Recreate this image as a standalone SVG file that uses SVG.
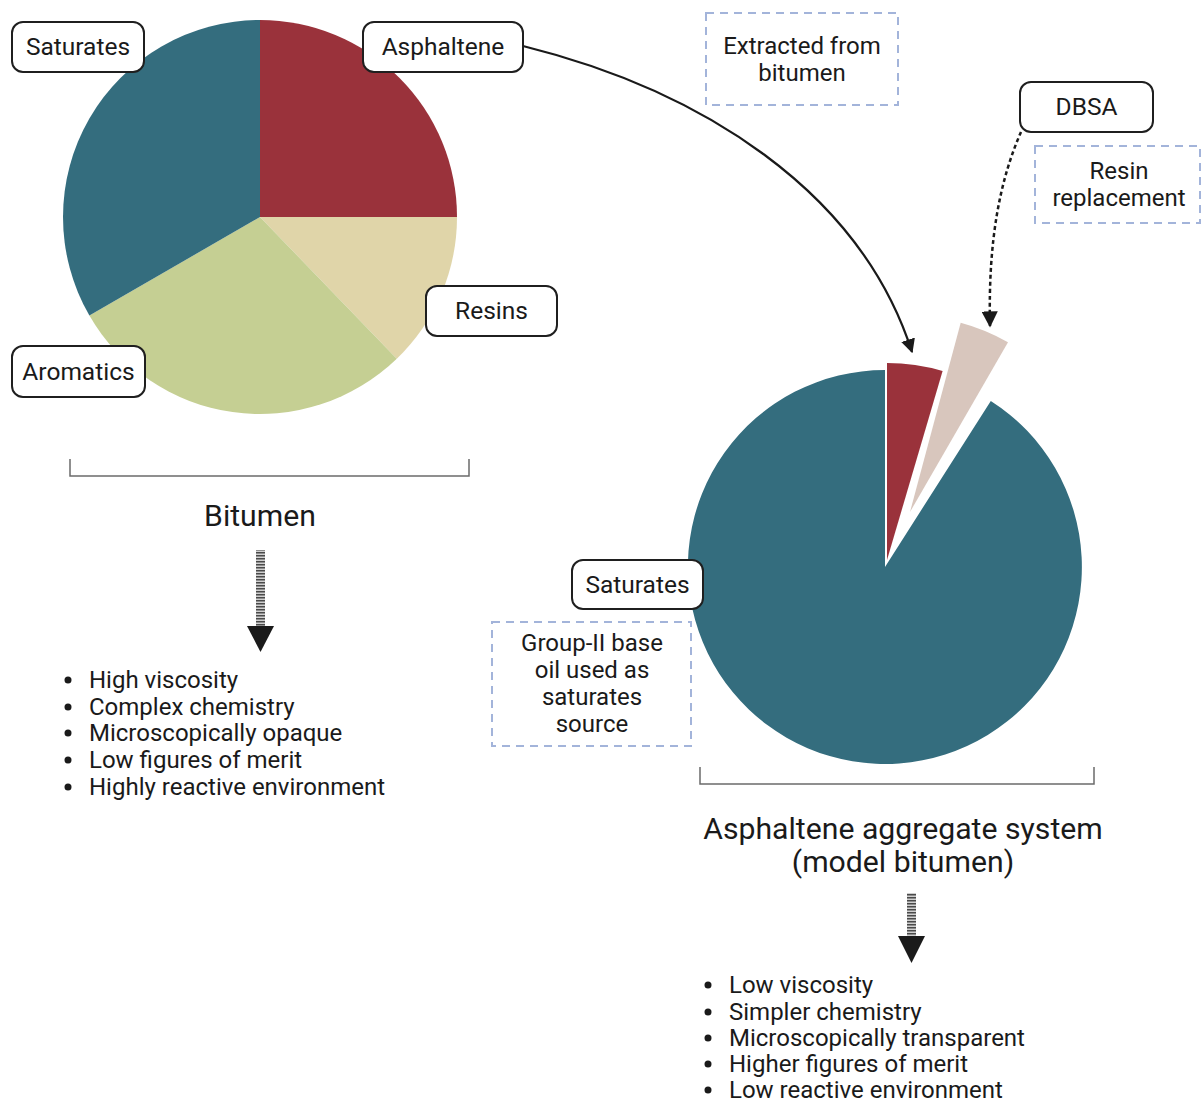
<svg xmlns="http://www.w3.org/2000/svg" width="1203" height="1104" viewBox="0 0 1203 1104">
<style>
text{font-family:Roboto,"Liberation Sans",sans-serif;fill:#1a1a1a}
.lbl{font-size:24.5px;text-anchor:middle}
.note{font-size:24px;text-anchor:middle}
.lblbox{fill:#fff;stroke:#1f1f1f;stroke-width:2}
.dash{fill:none;stroke:#a3b4da;stroke-width:2;stroke-dasharray:8 6}
.brk{fill:none;stroke:#6b6b6b;stroke-width:1.5}
.title{font-size:30.2px;text-anchor:middle}
.list{font-size:24px}
.teal{fill:#346d7e}.red{fill:#9a323b}.resin{fill:#e0d5a9}.arom{fill:#c5cf93}.dbsa{fill:#d8c6bd}
</style>
<defs>
<marker id="ah" viewBox="0 0 10 10" refX="9" refY="5" markerWidth="6.5" markerHeight="6.5" orient="auto" markerUnits="strokeWidth">
<path d="M0,0 L10,5 L0,10 Z" fill="#1a1a1a"/>
</marker>
<pattern id="stripe" width="8" height="3" patternUnits="userSpaceOnUse">
<rect width="8" height="3" fill="#d0d0d0"/>
<rect width="8" height="1.5" fill="#4a4a4a"/>
</pattern>
</defs>

<g id="bitumen-pie">
<path class="red" d="M260,217 L260,20 A197,197 0 0 1 457,217 Z"/>
<path class="resin" d="M260,217 L457,217 A197,197 0 0 1 396.8,358.7 Z"/>
<path class="arom" d="M260,217 L396.8,358.7 A197,197 0 0 1 89.4,315.5 Z"/>
<path class="teal" d="M260,217 L89.4,315.5 A197,197 0 0 1 260,20 Z"/>
</g>

<g id="model-pie">
<path class="teal" d="M885,567 L990.8,400.9 A197,197 0 1 1 885,370 Z"/>
<path class="red" d="M887,560 L887,363 A197,197 0 0 1 942.6,371 Z"/>
<path class="dbsa" d="M910,512 L960.7,322.7 A196,196 0 0 1 1008,342.3 Z"/>
</g>

<g id="connectors">
<path d="M523,46 C700,90 860,190 912,352" fill="none" stroke="#1a1a1a" stroke-width="2.2" marker-end="url(#ah)"/>
<path d="M1021,132 C1000,180 988,240 990,326" fill="none" stroke="#1a1a1a" stroke-width="2.5" stroke-dasharray="4 3" marker-end="url(#ah)"/>
<g id="arrow-left">
<rect x="256" y="550" width="9" height="77" fill="url(#stripe)"/>
<path d="M247,626 L274,626 L260.5,652 Z" fill="#1a1a1a"/>
</g>
<g id="arrow-right">
<rect x="907" y="893" width="9" height="44" fill="url(#stripe)"/>
<path d="M898,936 L925,936 L911.5,963 Z" fill="#1a1a1a"/>
</g>
</g>

<g id="label-saturates-left"><rect class="lblbox" x="12" y="22" width="132" height="50" rx="11"/><text class="lbl" x="78" y="55">Saturates</text></g>
<g id="label-asphaltene"><rect class="lblbox" x="363" y="22" width="160" height="50" rx="11"/><text class="lbl" x="443" y="55">Asphaltene</text></g>
<g id="label-resins"><rect class="lblbox" x="426" y="286" width="131" height="50" rx="11"/><text class="lbl" x="491.5" y="319">Resins</text></g>
<g id="label-aromatics"><rect class="lblbox" x="12" y="346" width="133" height="51" rx="11"/><text class="lbl" x="78.5" y="380">Aromatics</text></g>
<g id="label-saturates-right"><rect class="lblbox" x="572" y="560" width="131" height="49" rx="11"/><text class="lbl" x="637.5" y="593">Saturates</text></g>
<g id="label-dbsa"><rect class="lblbox" x="1020" y="82" width="133" height="50" rx="11"/><text class="lbl" x="1086.5" y="115">DBSA</text></g>

<g id="note-extracted"><rect class="dash" x="706" y="13" width="192" height="92"/><text class="note" x="802" y="54">Extracted from</text><text class="note" x="802" y="81">bitumen</text></g>
<g id="note-resin"><rect class="dash" x="1035" y="146" width="165" height="77"/><text class="note" x="1119" y="179">Resin</text><text class="note" x="1119" y="206">replacement</text></g>
<g id="note-group2"><rect class="dash" x="492" y="622" width="199" height="124"/><text class="note" x="592" y="651">Group-II base</text><text class="note" x="592" y="678">oil used as</text><text class="note" x="592" y="705">saturates</text><text class="note" x="592" y="732">source</text></g>

<g id="bracket-left"><path class="brk" d="M70,459 V476 H469 V459"/></g>
<g id="bracket-right"><path class="brk" d="M700,767 V784 H1094 V767"/></g>

<g id="title-bitumen"><text class="title" x="260" y="526">Bitumen</text></g>
<g id="title-model"><text class="title" x="903" y="839">Asphaltene aggregate system</text><text class="title" x="903" y="872">(model bitumen)</text></g>

<g id="list-left">
<circle cx="68" cy="680" r="3.5" fill="#1a1a1a"/><text class="list" x="89" y="688">High viscosity</text>
<circle cx="68" cy="707" r="3.5" fill="#1a1a1a"/><text class="list" x="89" y="715">Complex chemistry</text>
<circle cx="68" cy="733" r="3.5" fill="#1a1a1a"/><text class="list" x="89" y="741">Microscopically opaque</text>
<circle cx="68" cy="760" r="3.5" fill="#1a1a1a"/><text class="list" x="89" y="768">Low figures of merit</text>
<circle cx="68" cy="787" r="3.5" fill="#1a1a1a"/><text class="list" x="89" y="795">Highly reactive environment</text>
</g>
<g id="list-right">
<circle cx="708" cy="985" r="3.5" fill="#1a1a1a"/><text class="list" x="729" y="993">Low viscosity</text>
<circle cx="708" cy="1012" r="3.5" fill="#1a1a1a"/><text class="list" x="729" y="1020">Simpler chemistry</text>
<circle cx="708" cy="1038" r="3.5" fill="#1a1a1a"/><text class="list" x="729" y="1046">Microscopically transparent</text>
<circle cx="708" cy="1064" r="3.5" fill="#1a1a1a"/><text class="list" x="729" y="1072">Higher figures of merit</text>
<circle cx="708" cy="1090" r="3.5" fill="#1a1a1a"/><text class="list" x="729" y="1098">Low reactive environment</text>
</g>
</svg>
